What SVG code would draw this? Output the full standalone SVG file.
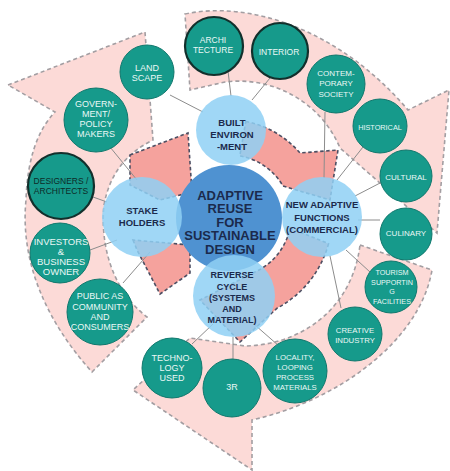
<svg xmlns="http://www.w3.org/2000/svg" width="450" height="471" viewBox="0 0 450 471">
<style>
.pk{fill:#fcdad7;stroke:#a39ea2;stroke-width:1.6;stroke-dasharray:4 3}
.sa{fill:#f5a29d;stroke:#4d4f63;stroke-width:1.6;stroke-dasharray:3.5 2.5}
.ln{stroke:#8c8c8c;stroke-width:1;fill:none}
.tc{fill:#169a8b;stroke:#10786d;stroke-width:1}
.tk{fill:#169a8b;stroke:#12302c;stroke-width:2.2}
.bc{fill:#8fd0f4;fill-opacity:.85}
.cc{fill:#4f92d1}
.tw{font-family:"Liberation Sans",Arial,sans-serif;fill:#eaf8f6;text-anchor:middle}
.td{font-family:"Liberation Sans",Arial,sans-serif;fill:#0e2b28;text-anchor:middle}
.tb{font-family:"Liberation Sans",Arial,sans-serif;font-weight:bold;fill:#1b2a4c;text-anchor:middle}
</style>
<rect width="450" height="471" fill="#ffffff"/>
<g id="outer-arrows">
<path class="pk" d="M185,14 C250,0 340,30 408,110 L449,90 L437,233 L340,148 C320,100 270,76 225,82 L190,90 Z"/>
<path class="pk" d="M360,245 L432,270 C420,340 340,400 252,420 L252,470 L133,390 L190,338 L245,346 C300,345 352,310 360,245 Z"/>
<path class="pk" d="M8,85 L145,32 L153,140 Q112,160 104,205 C100,245 112,290 147,317 L92,372 C45,320 20,260 26,200 Q28,140 55,112 Z"/>
</g>
<g id="inner-arrows">
<path class="sa" d="M245.8,121.5 A96 96 0 0 1 300,153 L338,150 L330,200 L283,186 A62 62 0 0 0 239.8,155.9 Z"/>
<path class="sa" d="M328.5,243.7 A103 103 0 0 1 277.4,307.9 L240,342 L200,300 L255,272 A62 62 0 0 0 290,228 Z"/>
<path class="sa" d="M130,155 L188,133 L192,192 L160,200 L130,185 Z"/>
<path class="sa" d="M133,240 L137,250 L160,294 L190,273 L190,245 Z"/>
</g>
<g id="connectors">
<line class="ln" x1="170" y1="95" x2="203" y2="112"/>
<line class="ln" x1="228" y1="71" x2="231" y2="96"/>
<line class="ln" x1="270" y1="78" x2="252" y2="100"/>
<line class="ln" x1="325" y1="112" x2="324" y2="178"/>
<line class="ln" x1="363" y1="147" x2="337" y2="180"/>
<line class="ln" x1="382" y1="182" x2="355" y2="196"/>
<line class="ln" x1="380" y1="220" x2="358" y2="220"/>
<line class="ln" x1="346" y1="250" x2="370" y2="272"/>
<line class="ln" x1="330" y1="256" x2="341" y2="308"/>
<line class="ln" x1="255" y1="325" x2="279" y2="346"/>
<line class="ln" x1="233" y1="337" x2="233" y2="359"/>
<line class="ln" x1="192" y1="344" x2="213" y2="324"/>
<line class="ln" x1="150" y1="252" x2="123" y2="283"/>
<line class="ln" x1="90" y1="250" x2="117" y2="240"/>
<line class="ln" x1="93" y1="197" x2="107" y2="202"/>
<line class="ln" x1="110" y1="147" x2="137" y2="180"/>
</g>
<g id="center">
<circle class="cc" cx="229" cy="218" r="53"/>
<text class="tb" font-size="13"><tspan x="230" y="199.7">ADAPTIVE</tspan><tspan x="230" y="213.2">REUSE</tspan><tspan x="230" y="226.7">FOR</tspan><tspan x="230" y="240.2">SUSTAINABLE</tspan><tspan x="230" y="253.7">DESIGN</tspan></text>
</g>
<g id="built">
<circle class="bc" cx="231" cy="130" r="35"/>
<text class="tb" font-size="9.5"><tspan x="232" y="126.4">BUILT</tspan><tspan x="232" y="138.4">ENVIRON</tspan><tspan x="232" y="150.4">-MENT</tspan></text>
</g>
<g id="stake">
<circle class="bc" cx="142" cy="217" r="40"/>
<text class="tb" font-size="9.5"><tspan x="142" y="214.4">STAKE</tspan><tspan x="142" y="226.4">HOLDERS</tspan></text>
</g>
<g id="newfunc">
<circle class="bc" cx="322" cy="217" r="40"/>
<text class="tb" font-size="9.5"><tspan x="322" y="208.4">NEW ADAPTIVE</tspan><tspan x="322" y="221.4">FUNCTIONS</tspan><tspan x="322" y="233.4">(COMMERCIAL)</tspan></text>
</g>
<g id="reverse">
<circle class="bc" cx="234" cy="296" r="41"/>
<text class="tb" font-size="9"><tspan x="232" y="278.2">REVERSE</tspan><tspan x="232" y="290.2">CYCLE</tspan><tspan x="232" y="301.2">(SYSTEMS</tspan><tspan x="232" y="312.2">AND</tspan><tspan x="232" y="323.2">MATERIAL)</tspan></text>
</g>
<g id="landscape">
<circle class="tc" cx="147" cy="72" r="27"/>
<text class="tw" font-size="9"><tspan x="147" y="71.2">LAND</tspan><tspan x="147" y="81.2">SCAPE</tspan></text>
</g>
<g id="government">
<circle class="tc" cx="96" cy="120" r="32"/>
<text class="tw" font-size="9"><tspan x="96" y="107.2">GOVERN-</tspan><tspan x="96" y="117.2">MENT/</tspan><tspan x="96" y="127.2">POLICY</tspan><tspan x="96" y="137.2">MAKERS</tspan></text>
</g>
<g id="architecture">
<circle class="tk" cx="214" cy="46" r="29"/>
<text class="tw" font-size="8.5"><tspan x="213" y="43">ARCHI</tspan><tspan x="213" y="53">TECTURE</tspan></text>
</g>
<g id="interior">
<circle class="tk" cx="280" cy="51" r="28"/>
<text class="tw" font-size="8.5"><tspan x="279" y="55">INTERIOR</tspan></text>
</g>
<g id="contemporary">
<circle class="tc" cx="336" cy="84" r="29"/>
<text class="tw" font-size="8"><tspan x="336" y="75.9">CONTEM-</tspan><tspan x="336" y="86.4">PORARY</tspan><tspan x="336" y="96.9">SOCIETY</tspan></text>
</g>
<g id="historical">
<circle class="tc" cx="380" cy="126" r="27"/>
<text class="tw" font-size="7.3"><tspan x="380" y="129.6">HISTORICAL</tspan></text>
</g>
<g id="cultural">
<circle class="tc" cx="406" cy="176" r="26"/>
<text class="tw" font-size="8"><tspan x="406" y="179.9">CULTURAL</tspan></text>
</g>
<g id="culinary">
<circle class="tc" cx="406" cy="234" r="26"/>
<text class="tw" font-size="8"><tspan x="406" y="235.9">CULINARY</tspan></text>
</g>
<g id="tourism">
<circle class="tc" cx="391" cy="287" r="26"/>
<text class="tw" font-size="7.2"><tspan x="392" y="274.6">TOURISM</tspan><tspan x="392" y="284.6">SUPPORTIN</tspan><tspan x="392" y="293.6">G</tspan><tspan x="392" y="303.6">FACILITIES</tspan></text>
</g>
<g id="creative">
<circle class="tc" cx="355" cy="334" r="27"/>
<text class="tw" font-size="7.8"><tspan x="355" y="332.8">CREATIVE</tspan><tspan x="355" y="342.8">INDUSTRY</tspan></text>
</g>
<g id="locality">
<circle class="tc" cx="295" cy="371" r="32"/>
<text class="tw" font-size="7.8"><tspan x="295" y="359.8">LOCALITY,</tspan><tspan x="295" y="369.8">LOOPING</tspan><tspan x="295" y="379.8">PROCESS</tspan><tspan x="295" y="389.8">MATERIALS</tspan></text>
</g>
<g id="threer">
<circle class="tc" cx="232" cy="388" r="29"/>
<text class="tw" font-size="9"><tspan x="232" y="390.2">3R</tspan></text>
</g>
<g id="technology">
<circle class="tc" cx="172" cy="368" r="30"/>
<text class="tw" font-size="9"><tspan x="172" y="361.2">TECHNO-</tspan><tspan x="172" y="371.2">LOGY</tspan><tspan x="172" y="381.2">USED</tspan></text>
</g>
<g id="public">
<circle class="tc" cx="100" cy="312" r="33"/>
<text class="tw" font-size="9"><tspan x="100" y="299.2">PUBLIC AS</tspan><tspan x="100" y="309.5">COMMUNITY</tspan><tspan x="100" y="319.8">AND</tspan><tspan x="100" y="330.2">CONSUMERS</tspan></text>
</g>
<g id="investors">
<circle class="tc" cx="60" cy="253" r="30"/>
<text class="tw" font-size="9.5"><tspan x="61" y="245.4">INVESTORS</tspan><tspan x="61" y="255.4">&amp;</tspan><tspan x="61" y="265.4">BUSINESS</tspan><tspan x="61" y="275.4">OWNER</tspan></text>
</g>
<g id="designers">
<circle class="tk" cx="61" cy="186" r="33"/>
<text class="td" font-size="8.5"><tspan x="61" y="184">DESIGNERS /</tspan><tspan x="61" y="194">ARCHITECTS</tspan></text>
</g>
</svg>
